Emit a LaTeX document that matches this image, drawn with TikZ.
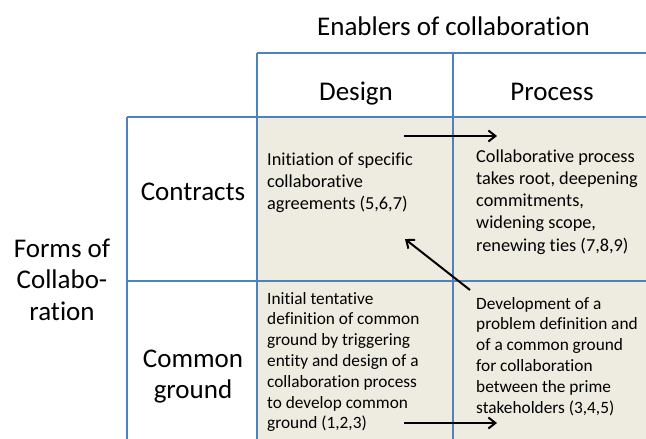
\documentclass[tikz,border=0pt]{standalone}
\usepackage{fontspec}
\setmainfont{Carlito}[Ligatures=NoCommon]
\usetikzlibrary{arrows.meta, positioning}
\definecolor{gridblue}{HTML}{4F81BD}
\definecolor{cellfill}{HTML}{EEECE1}
\tikzset{heading/.style={font=\fontsize{27}{31.5}\selectfont,align=center,anchor=base,inner sep=0pt},
         celltext/.style={font=\fontsize{18.3}{22.3}\selectfont,align=left,anchor=base west,inner sep=0pt},
         lowtext/.style={celltext,font=\fontsize{17.3}{20.8}\selectfont},
         gridline/.style={gridblue,line width=2pt},
         arrow/.style={-{Straight Barb[length=7pt,width=11pt]},line width=2pt}}
\begin{document}
\begin{tikzpicture}[x=1pt,y=-1pt]
    \useasboundingbox (0,0) rectangle (646,439);
    \fill[cellfill] (257,117) rectangle (646,439);
    \foreach \y in {117,281} {\draw[gridline] (127,\y) -- (646,\y);}
    \draw[gridline] (257,53) -- (646,53);
    \foreach \x in {257,453} {\draw[gridline] (\x,53) -- (\x,439);}
    \draw[gridline] (127,117) -- (127,439);

    % multi-line nodes sit on the baseline of their last line
    \node (enablers) [heading] at (453.5,35) {Enablers of collaboration};
    \node (design) [heading] at (356,100) {Design};
    \node (process) [heading] at (552,100) {Process};
    \node (forms) [heading] at (62,320) {Forms of\\Collabo-\\ration};
    \node (contracts) [heading] at (193,200) {Contracts};
    \node (common) [heading] at (193,398.5) {Common\\ground};

    \node (initiation) [celltext] at (267,209.6) {Initiation of specific\\collaborative\\agreements (5,6,7)};
    \node (rooting) [celltext] at (476,251.2) {Collaborative process\\takes root, deepening\\commitments,\\widening scope,\\renewing ties (7,8,9)};
    \node (tentative) [lowtext] at (267,428.8) {Initial tentative\\definition of common\\ground by triggering\\entity and design of a\\collaboration process\\to develop common\\ground (1,2,3)};
    \node (problem) [lowtext] at (476,413) {Development of a\\problem definition and\\of a common ground\\for collaboration\\between the prime\\stakeholders (3,4,5)};

    \coordinate (top1) at (404,136);
    \coordinate (top2) at (497,136);
    \coordinate (diag1) at (470,290);
    \coordinate (diag2) at (405,239);
    \coordinate (bot1) at (404,423);
    \coordinate (bot2) at (497,423);
    \foreach \a/\b in {top1/top2,diag1/diag2,bot1/bot2} {\draw[arrow] (\a) -- (\b);}
  \end{tikzpicture}
\end{document}
